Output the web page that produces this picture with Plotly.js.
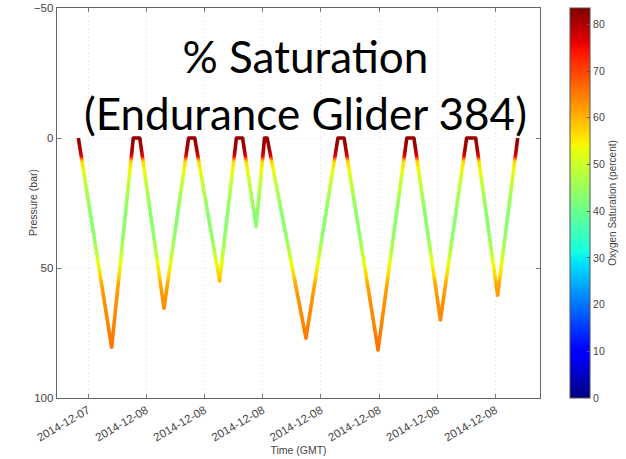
<!DOCTYPE html>
<html>
<head>
<meta charset="utf-8">
<script src="https://cdn.plot.ly/plotly-3.0.1.min.js"></script>
<style>
html, body { margin: 0; padding: 0; background: #ffffff; }
#chart { width: 626px; height: 459px; }
</style>
</head>
<body>
<div id="chart"></div>
<script>
// Glider path vertices: time (GMT) and pressure (bar)
var diveTimes = [
  '2014-12-07 20:30', '2014-12-07 22:13', '2014-12-07 23:20', '2014-12-07 23:40',
  '2014-12-08 00:55', '2014-12-08 02:11', '2014-12-08 02:30', '2014-12-08 03:47',
  '2014-12-08 04:39', '2014-12-08 04:58', '2014-12-08 05:40', '2014-12-08 06:06',
  '2014-12-08 06:14', '2014-12-08 08:14', '2014-12-08 09:53', '2014-12-08 10:12',
  '2014-12-08 11:57', '2014-12-08 13:26', '2014-12-08 13:48', '2014-12-08 15:10',
  '2014-12-08 16:31', '2014-12-08 16:59', '2014-12-08 18:07', '2014-12-08 19:09'
];
var divePressures = [
  0, 80.5, 0, 0,
  65.5, 0, 0, 55,
  0, 0, 34, 0,
  0, 77, 0, 0,
  81.5, 0, 0, 70,
  0, 0, 60.5, 0
];

// Oxygen saturation (percent) along the profile, by pressure (bar)
var profilePressure   = [0,  5,  7,  8,  9,  12, 16, 22, 30, 38, 44, 48, 53, 56, 62, 70, 82];
var profileSaturation = [82, 80, 76, 66, 57, 54, 50, 46, 43, 44, 48, 53, 57, 61, 63, 64, 66];

// Axis ticks
var tickTimes = ['2014-12-07 21:00', '2014-12-08 00:00', '2014-12-08 03:00', '2014-12-08 06:00',
                 '2014-12-08 09:00', '2014-12-08 12:00', '2014-12-08 15:00', '2014-12-08 18:00'];
var tickLabels = ['2014-12-07', '2014-12-08', '2014-12-08', '2014-12-08',
                  '2014-12-08', '2014-12-08', '2014-12-08', '2014-12-08'];
var pressureTicks = [-50, 0, 50, 100];
var saturationTicks = [0, 10, 20, 30, 40, 50, 60, 70, 80];
var saturationMin = 0, saturationMax = 83.5;

// matplotlib-style "jet" colour scale
var jet = [
  [0.00, 'rgb(0,0,128)'], [0.11, 'rgb(0,0,255)'], [0.125, 'rgb(0,0,255)'],
  [0.34, 'rgb(0,219,255)'], [0.35, 'rgb(0,229,247)'], [0.375, 'rgb(20,255,226)'],
  [0.64, 'rgb(238,255,8)'], [0.65, 'rgb(247,245,0)'], [0.66, 'rgb(255,236,0)'],
  [0.89, 'rgb(255,18,0)'], [0.91, 'rgb(232,0,0)'], [1.00, 'rgb(128,0,0)']
];

function colorAt(v) {
  var t = (v - saturationMin) / (saturationMax - saturationMin);
  t = Math.max(0, Math.min(1, t));
  for (var i = 1; i < jet.length; i++) {
    if (t <= jet[i][0]) {
      var a = jet[i - 1], b = jet[i];
      var f = (t - a[0]) / (b[0] - a[0] || 1);
      var ca = a[1].match(/\d+/g).map(Number), cb = b[1].match(/\d+/g).map(Number);
      var c = ca.map(function (x, k) { return Math.round(x + (cb[k] - x) * f); });
      return 'rgb(' + c.join(',') + ')';
    }
  }
  return jet[jet.length - 1][1];
}

var pathTrace = {
  type: 'scatter', mode: 'lines',
  x: diveTimes, y: divePressures,
  line: { color: colorAt(50), width: 3.6 },
  hoverinfo: 'skip'
};

var scaleTrace = {
  type: 'scatter', mode: 'markers',
  x: [null], y: [null],
  marker: {
    color: profileSaturation, cmin: saturationMin, cmax: saturationMax,
    colorscale: jet, showscale: true,
    colorbar: {
      x: 1.062, xanchor: 'left', xpad: 0,
      y: 0.5, yanchor: 'middle', len: 1, lenmode: 'fraction', ypad: 0,
      thickness: 20, thicknessmode: 'pixels',
      outlinewidth: 1, outlinecolor: '#555',
      tickvals: saturationTicks, ticks: 'inside', ticklen: 3, tickcolor: '#555',
      tickfont: { size: 10.5, color: '#444' },
      title: { text: 'Oxygen Saturation (percent)', side: 'right', font: { size: 10, color: '#444' } }
    }
  },
  hoverinfo: 'skip'
};

var layout = {
  width: 626, height: 459,
  margin: { l: 57, r: 84, t: 8, b: 61, pad: 0 },
  paper_bgcolor: '#ffffff', plot_bgcolor: '#ffffff',
  showlegend: false,
  font: { family: 'Liberation Sans, Arial, sans-serif', size: 10, color: '#444' },
  xaxis: {
    type: 'date',
    range: ['2014-12-07 19:24', '2014-12-08 20:18'],
    tickmode: 'array', tickvals: tickTimes, ticktext: tickLabels,
    tickangle: -30, tickfont: { size: 11.5, color: '#444' },
    ticks: 'inside', ticklen: 4, tickcolor: '#777',
    showgrid: true, gridcolor: '#e2e2e2', griddash: '1px,3px', gridwidth: 1,
    showline: true, mirror: 'ticks', linecolor: '#666', linewidth: 1.3,
    zeroline: false,
    title: { text: 'Time (GMT)', font: { size: 10.5, color: '#444' }, standoff: 4 }
  },
  yaxis: {
    range: [100, -50],
    tickmode: 'array', tickvals: pressureTicks,
    tickfont: { size: 11.5, color: '#444' },
    ticks: 'inside', ticklen: 4, tickcolor: '#777',
    showgrid: true, gridcolor: '#e2e2e2', griddash: '1px,3px', gridwidth: 1,
    showline: true, mirror: 'ticks', linecolor: '#666', linewidth: 1.3,
    zeroline: false
  },
  annotations: [{
    text: '% Saturation<br>(Endurance Glider 384)',
    xref: 'paper', yref: 'paper', x: 0.515, y: 0.805,
    xanchor: 'center', yanchor: 'middle', align: 'center',
    showarrow: false,
    font: { family: 'Lato, sans-serif', size: 44, color: '#000000' }
  }, {
    text: 'Pressure (bar)',
    xref: 'paper', yref: 'paper', x: -0.0495, y: 0.5,
    xanchor: 'center', yanchor: 'middle', textangle: -90,
    showarrow: false,
    font: { size: 10.5, color: '#444' }
  }]
};

Plotly.newPlot('chart', [pathTrace, scaleTrace], layout, { staticPlot: true, displayModeBar: false })
  .then(function (gd) {
    // colour the path by the saturation profile, positioned with the y axis scale
    var ya = gd._fullLayout.yaxis;
    var svgNS = 'http://www.w3.org/2000/svg';
    var svg = gd.querySelector('svg.main-svg');
    var defs = svg.querySelector('defs');
    var grad = document.createElementNS(svgNS, 'linearGradient');
    grad.setAttribute('id', 'satGrad');
    grad.setAttribute('gradientUnits', 'userSpaceOnUse');
    var p0 = profilePressure[0], p1 = profilePressure[profilePressure.length - 1];
    grad.setAttribute('x1', '0'); grad.setAttribute('x2', '0');
    grad.setAttribute('y1', ya.c2p(p0)); grad.setAttribute('y2', ya.c2p(p1));
    profilePressure.forEach(function (p, i) {
      var stop = document.createElementNS(svgNS, 'stop');
      stop.setAttribute('offset', (p - p0) / (p1 - p0));
      stop.setAttribute('stop-color', colorAt(profileSaturation[i]));
      grad.appendChild(stop);
    });
    defs.appendChild(grad);
    var path = gd.querySelector('.scatterlayer .trace .js-line');
    if (path) {
      path.style.stroke = 'url(#satGrad)';
      path.style.strokeLinejoin = 'round';
    }
  });
</script>
</body>
</html>
